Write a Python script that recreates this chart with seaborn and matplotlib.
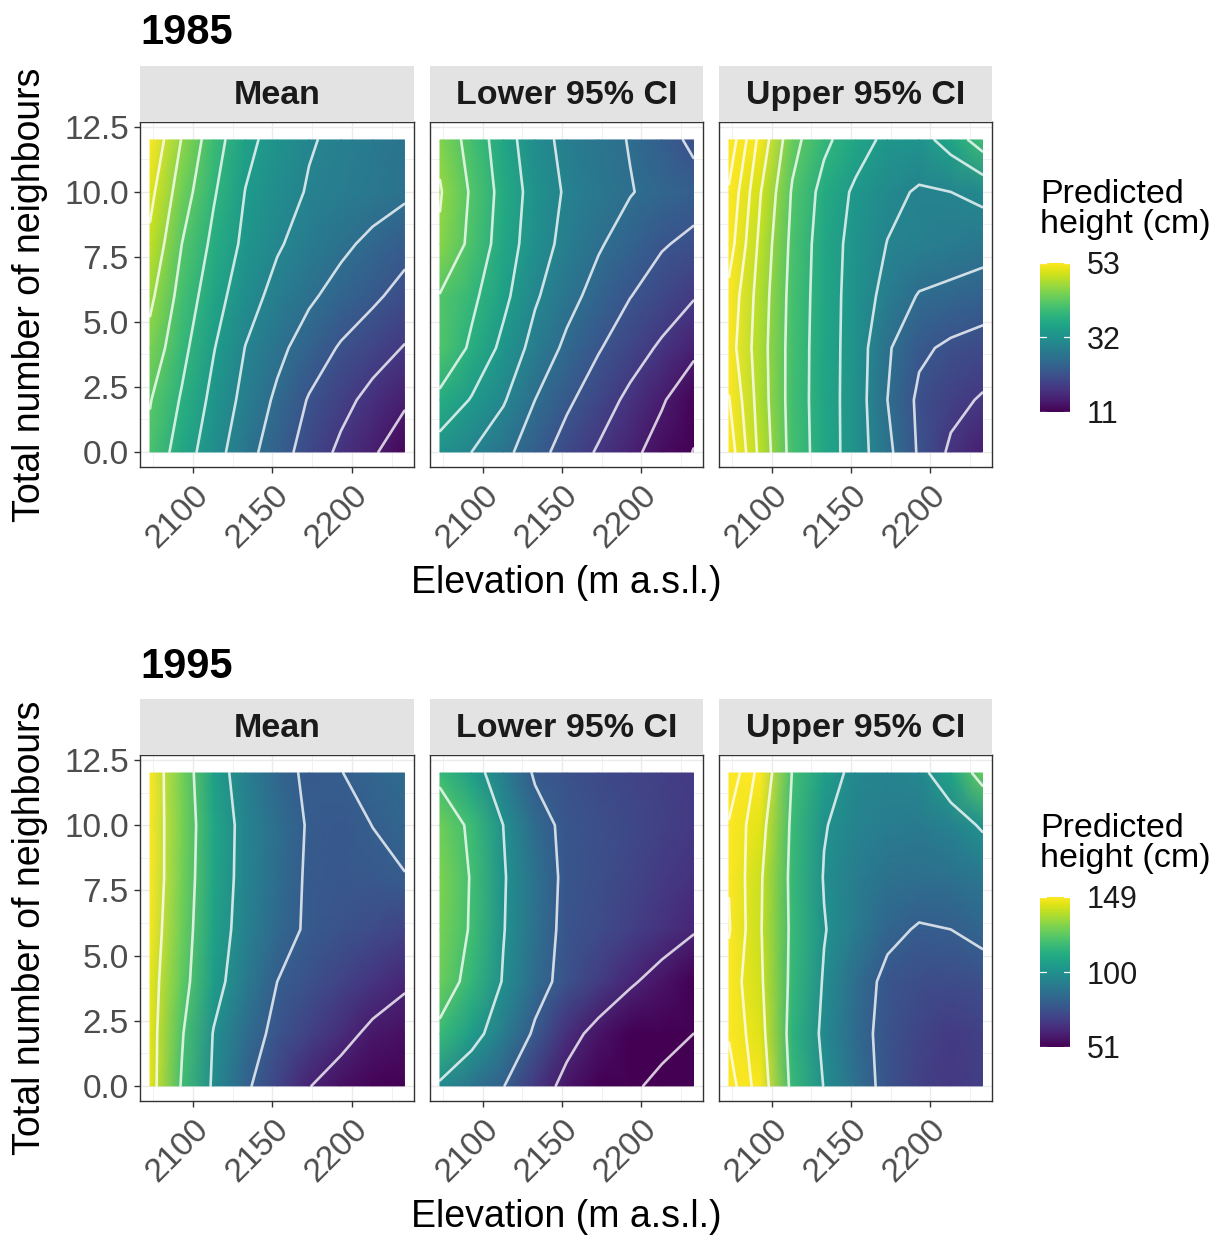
import numpy as np
import matplotlib
matplotlib.use("Agg")
import matplotlib.pyplot as plt
import matplotlib.transforms as mtransforms
from matplotlib.colors import Normalize
from matplotlib.cm import ScalarMappable
import seaborn as sns

# ---------------------------------------------------------------------------
# Prediction grid: rows follow `neighbours`, columns follow `elevation`
# ---------------------------------------------------------------------------
elevation = [2073, 2093, 2113, 2133, 2153, 2173, 2193, 2213, 2233]
neighbours = [0, 2, 4, 6, 8, 10, 12]

mean_1985 = [
    [41.0, 36.1, 31.6, 27.5, 23.8, 20.3, 17.2, 14.5, 11.7],
    [42.2, 37.6, 32.9, 28.8, 25.3, 21.7, 19.2, 16.8, 14.6],
    [44.6, 39.1, 34.2, 29.9, 27.0, 24.2, 21.6, 19.7, 17.8],
    [46.9, 40.5, 35.7, 31.6, 28.8, 26.6, 24.6, 22.7, 20.7],
    [49.2, 42.0, 37.1, 33.1, 30.4, 28.5, 26.8, 25.1, 23.3],
    [51.1, 43.9, 38.4, 33.9, 31.5, 29.7, 28.7, 27.8, 26.8],
    [53.3, 45.8, 39.7, 35.1, 32.4, 30.3, 29.2, 28.2, 27.2],
]
lower_1985 = [
    [32.0, 30.0, 27.2, 23.6, 20.3, 17.6, 15.0, 12.4, 9.9],
    [37.0, 33.7, 30.4, 26.0, 22.7, 19.9, 17.1, 14.4, 11.4],
    [41.4, 37.3, 33.0, 28.6, 25.2, 22.3, 19.8, 17.4, 14.9],
    [41.8, 38.9, 35.0, 30.5, 27.3, 24.6, 22.1, 20.3, 18.3],
    [45.5, 41.0, 36.1, 31.9, 28.8, 26.4, 24.3, 22.3, 21.2],
    [46.3, 41.5, 36.6, 32.4, 29.5, 27.8, 26.2, 24.8, 23.5],
    [45.0, 40.5, 35.9, 31.5, 29.0, 27.4, 25.8, 23.6, 21.2],
]
upper_1985 = [
    [60.3, 48.6, 40.5, 36.0, 32.1, 27.0, 21.5, 17.3, 14.5],
    [58.2, 47.9, 40.3, 35.9, 32.1, 26.0, 21.2, 19.2, 17.6],
    [55.9, 47.6, 40.4, 35.9, 32.2, 26.5, 22.7, 21.3, 20.4],
    [56.9, 48.0, 40.6, 36.0, 32.3, 28.7, 25.7, 24.9, 24.1],
    [59.9, 48.8, 41.0, 36.1, 32.6, 29.9, 29.1, 28.4, 27.6],
    [61.5, 50.1, 41.6, 36.7, 33.3, 31.0, 29.6, 30.0, 31.0],
    [64.9, 52.4, 43.3, 38.8, 35.8, 33.0, 32.5, 35.6, 40.0],
]
mean_1995 = [
    [145.5, 118.9, 98.0, 82.2, 70.9, 60.4, 55.0, 52.0, 51.0],
    [145.5, 121.1, 99.3, 86.2, 76.6, 70.1, 63.6, 57.5, 55.0],
    [145.9, 125.2, 105.0, 91.4, 80.0, 75.4, 70.9, 66.3, 61.5],
    [147.9, 126.8, 107.4, 94.0, 84.0, 78.5, 75.9, 73.3, 70.6],
    [149.5, 128.1, 108.6, 95.1, 85.6, 78.5, 77.5, 78.0, 79.6],
    [149.0, 128.9, 109.1, 95.4, 86.2, 79.0, 77.5, 80.1, 83.0],
    [149.0, 128.1, 106.5, 93.3, 83.3, 78.3, 79.8, 82.5, 85.0],
]
lower_1995 = [
    [98.0, 89.2, 80.5, 66.8, 56.4, 49.6, 42.8, 36.0, 33.0],
    [117.0, 105.1, 92.0, 78.0, 64.3, 56.3, 51.0, 45.6, 40.0],
    [127.0, 115.7, 99.0, 85.2, 75.6, 68.5, 61.4, 56.0, 50.8],
    [129.0, 118.8, 100.6, 87.1, 76.5, 73.5, 69.6, 65.5, 61.0],
    [129.5, 119.2, 101.1, 88.1, 77.0, 74.5, 71.5, 68.0, 65.0],
    [127.5, 117.7, 99.9, 85.0, 77.0, 75.0, 72.5, 70.0, 67.5],
    [117.0, 105.5, 92.5, 78.5, 75.5, 73.0, 71.0, 69.5, 68.0],
]
upper_1995 = [
    [190.0, 148.0, 116.5, 99.5, 86.7, 76.0, 70.0, 67.0, 69.0],
    [178.0, 144.3, 114.5, 97.1, 84.7, 76.0, 71.0, 68.0, 70.0],
    [172.0, 141.8, 116.4, 98.8, 86.0, 77.0, 74.0, 73.5, 75.0],
    [181.5, 140.7, 117.2, 100.7, 91.5, 82.8, 79.0, 80.0, 83.0],
    [179.0, 141.3, 116.5, 99.3, 92.0, 88.0, 86.5, 87.5, 90.0],
    [178.0, 144.7, 117.4, 100.7, 95.0, 92.0, 91.5, 94.0, 101.5],
    [195.0, 151.6, 119.4, 105.9, 96.5, 95.0, 96.5, 107.8, 126.0],
]

years = ["1985", "1995"]
panel_titles = ["Mean", "Lower 95% CI", "Upper 95% CI"]
grids = {
    "1985": [mean_1985, lower_1985, upper_1985],
    "1995": [mean_1995, lower_1995, upper_1995],
}
colour_limits = {"1985": (11, 53), "1995": (51, 149)}
legend_breaks = {"1985": [11, 32, 53], "1995": [51, 100, 149]}
contour_levels = {"1985": list(range(6, 70, 4)), "1995": list(range(40, 220, 20))}

x_ticks = [2100, 2150, 2200]
x_tick_labels = ["2100", "2150", "2200"]
y_ticks = [0.0, 2.5, 5.0, 7.5, 10.0, 12.5]
y_tick_labels = ["0.0", "2.5", "5.0", "7.5", "10.0", "12.5"]

x_title = "Elevation (m a.s.l.)"
y_title = "Total number of neighbours"
legend_title = "Predicted\nheight (cm)"

# ---------------------------------------------------------------------------
# Styling
# ---------------------------------------------------------------------------
sns.set_theme(style="white")
plt.rcParams["font.family"] = ["Liberation Sans", "DejaVu Sans"]
cmap = sns.color_palette("viridis", as_cmap=True)

W, H = 1221, 1236
fig = plt.figure(figsize=(W / 100, H / 100), dpi=100)
fig.patch.set_facecolor("white")


def box(x0, y0, x1, y1):
    """Pixel box (top-left origin) to figure-fraction rectangle."""
    return [x0 / W, 1 - y1 / H, (x1 - x0) / W, (y1 - y0) / H]


panel_x = [(140, 414), (430, 703), (719, 992)]
row_y = {"1985": (122, 467), "1995": (755, 1101)}
strip_h = 56
title_base = {"1985": 44, "1995": 678}
xlabel_base = {"1985": 593, "1995": 1227}
cbar_y = {"1985": (263, 412), "1995": (897, 1047)}
legend_top = {"1985": 179, "1995": 813}

border = "#333333"
grid_col = "#ebebeb"
tick_text = "#4d4d4d"

for year in years:
    y0, y1 = row_y[year]
    vmin, vmax = colour_limits[year]
    norm = Normalize(vmin=vmin, vmax=vmax, clip=True)

    for col, (title, grid) in enumerate(zip(panel_titles, grids[year])):
        x0, x1 = panel_x[col]
        ax = fig.add_axes(box(x0, y0, x1, y1))
        Z = np.array(grid)

        ax.pcolormesh(elevation, neighbours, Z, shading="gouraud",
                      cmap=cmap, norm=norm, zorder=1)
        cs = ax.contour(elevation, neighbours, Z, levels=contour_levels[year],
                        colors="white", linewidths=1.9, alpha=0.78, zorder=2)
        cs.set_capstyle("round")
        cs.set_joinstyle("round")

        ax.set_xlim(2066.7, 2239.0)
        ax.set_ylim(-0.58, 12.69)
        ax.set_facecolor("white")

        ax.set_xticks(x_ticks)
        ax.set_xticklabels(x_tick_labels)
        ax.set_xticks([2075, 2125, 2175, 2225], minor=True)
        ax.set_yticks(y_ticks)
        ax.set_yticks([1.25, 3.75, 6.25, 8.75, 11.25], minor=True)
        ax.set_axisbelow(True)
        ax.grid(which="major", color=grid_col, linewidth=1.0)
        ax.grid(which="minor", color=grid_col, linewidth=0.5)

        for sp in ax.spines.values():
            sp.set_visible(True)
            sp.set_color(border)
            sp.set_linewidth(1.0)

        ax.tick_params(axis="x", which="major", bottom=True, length=4,
                       width=1.0, color=border, labelsize=24,
                       labelcolor=tick_text, pad=5, direction="out")
        ax.tick_params(axis="both", which="minor", length=0)
        for lbl in ax.get_xticklabels():
            lbl.set_rotation(45)
            lbl.set_ha("right")
            lbl.set_va("top")
            lbl.set_rotation_mode("anchor")

        if col == 0:
            ax.set_yticklabels(y_tick_labels)
            ax.tick_params(axis="y", which="major", left=True, length=4,
                           width=1.0, color=border, labelsize=24,
                           labelcolor=tick_text, pad=4, direction="out")
        else:
            ax.tick_params(axis="y", which="major", left=False,
                           labelleft=False)

        # facet strip
        sax = fig.add_axes(box(x0, y0 - strip_h, x1, y0))
        sax.set_facecolor("#e3e3e3")
        sax.set_xticks([])
        sax.set_yticks([])
        for sp in sax.spines.values():
            sp.set_visible(False)
        sax.text(0.5, 0.47, title, ha="center", va="center", fontsize=24.5,
                 fontweight="bold", color="#1a1a1a", transform=sax.transAxes)

    # row title
    fig.text(140 / W, 1 - title_base[year] / H, year, ha="left",
             va="baseline", fontsize=30, fontweight="bold", color="black")

    # axis titles
    fig.text(566 / W, 1 - xlabel_base[year] / H, x_title, ha="center",
             va="baseline", fontsize=27, color="black")
    fig.text(30 / W, 1 - ((y0 + y1) / 2) / H, y_title, ha="center",
             va="center", rotation=90, fontsize=27, color="black")

    # colour bar legend
    cy0, cy1 = cbar_y[year]
    cax = fig.add_axes(box(1040, cy0, 1070, cy1))
    sm = ScalarMappable(norm=Normalize(vmin=vmin, vmax=vmax), cmap=cmap)
    cb = fig.colorbar(sm, cax=cax, ticks=legend_breaks[year])
    cb.outline.set_visible(False)
    cb.ax.set_yticklabels([str(b) for b in legend_breaks[year]])
    cax.tick_params(length=0, labelsize=22, labelcolor="#1a1a1a", pad=12)
    trans = mtransforms.blended_transform_factory(cax.transAxes, cax.transData)
    for b in legend_breaks[year]:
        cax.plot([0, 0.2], [b, b], color="white", linewidth=0.9,
                 transform=trans, clip_on=False)
        cax.plot([0.8, 1.0], [b, b], color="white", linewidth=0.9,
                 transform=trans, clip_on=False)
    fig.text(1040 / W, 1 - legend_top[year] / H, legend_title, ha="left",
             va="top", fontsize=24.5, color="black", linespacing=0.95)

fig.savefig("out.png", dpi=100, facecolor="white")
